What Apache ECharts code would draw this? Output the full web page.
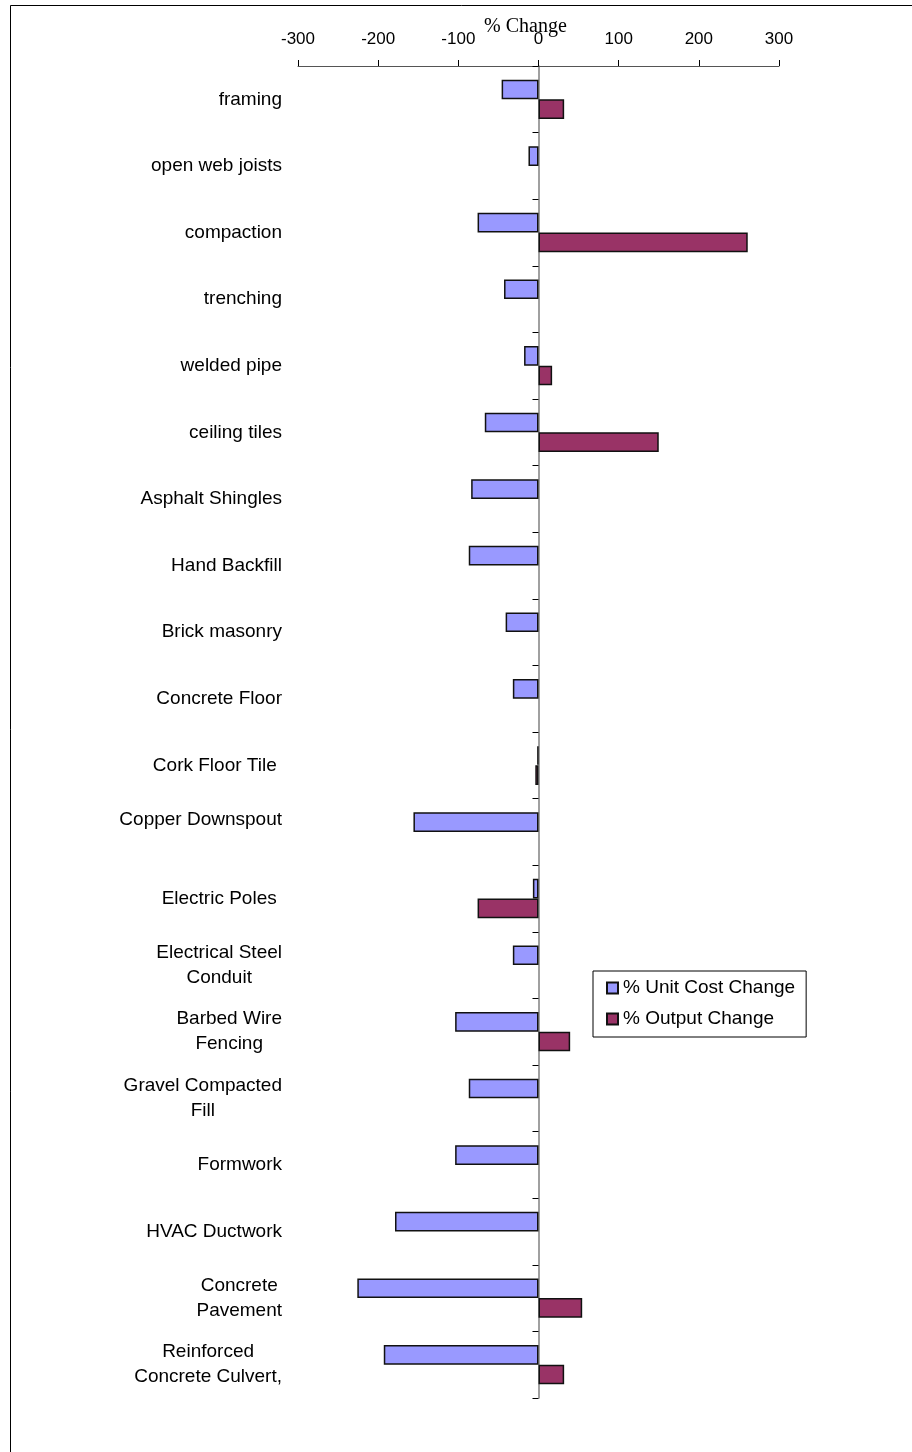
<!DOCTYPE html>
<html>
<head>
<meta charset="utf-8">
<script src="https://cdn.jsdelivr.net/npm/echarts@6/dist/echarts.min.js"></script>
<style>
html,body{margin:0;padding:0;background:#fff;}
#chart{width:912px;height:1452px;}
</style>
</head>
<body>
<div id="chart"></div>
<script>
const categories = [
  'framing', 'open web joists', 'compaction', 'trenching', 'welded pipe',
  'ceiling tiles', 'Asphalt Shingles', 'Hand Backfill', 'Brick masonry',
  'Concrete Floor', 'Cork Floor Tile ', 'Copper Downspout\n', 'Electric Poles ',
  'Electrical Steel\nConduit', 'Barbed Wire\nFencing', 'Gravel Compacted\nFill',
  'Formwork', 'HVAC Ductwork', 'Concrete\nPavement', 'Reinforced\nConcrete Culvert,'
];
const unitCostChange = [-46, -12.5, -76, -43, -18, -67, -84, -87, -41, -32, -1.5, -156, -7, -32, -104, -87, -104, -179, -226, -193];
const outputChange = [32, null, 261, null, 17, 150, null, null, null, null, -4, null, -76, null, 39.5, null, null, null, 54.5, 32];
const xTicks = { min: -300, max: 300, interval: 100 };
const seriesNames = ['% Unit Cost Change', '% Output Change'];

const chart = echarts.init(document.getElementById('chart'), null, { renderer: 'canvas' });
const sans = '"Liberation Sans", Arial, sans-serif';

chart.setOption({
  animation: false,
  backgroundColor: '#fff',
  textStyle: { fontFamily: sans },
  graphic: [{
    type: 'rect',
    shape: { x: 10.5, y: 5.5, width: 1000, height: 2000 },
    style: { fill: 'none', stroke: '#000', lineWidth: 1 },
    silent: true
  }],
  title: {
    text: '% Change',
    left: 484,
    top: 17,
    padding: 0,
    textStyle: { fontFamily: '"Liberation Serif", "Times New Roman", serif', fontSize: 20, fontWeight: 'normal', color: '#000' }
  },
  grid: { left: 298, right: 133, top: 66, bottom: 54, containLabel: false },
  xAxis: {
    type: 'value',
    position: 'top',
    min: xTicks.min, max: xTicks.max, interval: xTicks.interval,
    axisLine: { show: true, lineStyle: { color: '#555', width: 1 } },
    axisTick: { show: true, length: 6, lineStyle: { color: '#000' } },
    axisLabel: { margin: 18, fontSize: 17, color: '#000', fontFamily: sans },
    splitLine: { show: false }
  },
  yAxis: [{
    type: 'category',
    inverse: true,
    data: categories,
    position: 'left',
    axisLine: { show: false, onZero: false },
    axisTick: { show: false },
    axisLabel: {
      margin: 16,
      fontSize: 19,
      color: '#000',
      fontFamily: sans,
      interval: 0,
      formatter: function (v) {
        return v.split('\n').map(function (l) { return '{c|' + (l === '' ? ' ' : l) + '}'; }).join('\n');
      },
      rich: { c: { align: 'center', fontSize: 19, lineHeight: 25, color: '#000', fontFamily: sans } }
    },
    splitLine: { show: false }
  }, {
    type: 'category',
    inverse: true,
    data: categories,
    position: 'left',
    axisLine: { show: true, onZero: true, lineStyle: { color: '#808080', width: 1.5 } },
    axisTick: { show: true, length: 6, inside: false, lineStyle: { color: '#000' } },
    axisLabel: { show: false },
    splitLine: { show: false }
  }],
  legend: {
    orient: 'vertical',
    left: 593,
    top: 971,
    backgroundColor: '#fff',
    borderColor: '#000',
    borderWidth: 1,
    borderRadius: 0,
    padding: [7, 11, 8, 13],
    itemWidth: 11,
    itemHeight: 11,
    itemGap: 11,
    itemTextGap: 7,
    icon: 'rect',
    textStyle: { fontSize: 19, lineHeight: 20, color: '#000', fontFamily: sans },
    data: seriesNames
  },
  series: [{
    name: seriesNames[0],
    type: 'bar',
    yAxisIndex: 0,
    data: unitCostChange,
    barGap: '0%',
    barCategoryGap: '41%',
    itemStyle: { color: '#9999FF', borderColor: '#111', borderWidth: 1.5 }
  }, {
    name: seriesNames[1],
    type: 'bar',
    yAxisIndex: 0,
    data: outputChange,
    barGap: '0%',
    barCategoryGap: '41%',
    itemStyle: { color: '#993366', borderColor: '#111', borderWidth: 1.5 }
  }]
});
</script>
</body>
</html>
